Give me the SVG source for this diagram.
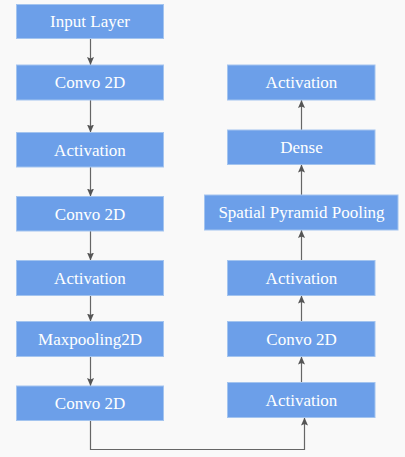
<svg xmlns="http://www.w3.org/2000/svg" width="405" height="457" viewBox="0 0 405 457">
<defs>
<marker id="ah" viewBox="0 0 8 7" refX="8" refY="3.5" markerWidth="8" markerHeight="7" markerUnits="userSpaceOnUse" orient="auto">
<path d="M0,0 L8,3.5 L0,7 L1.5,3.5 z" fill="#555"/>
</marker>
<style>
.box{fill:#6c9fe9;stroke:#a3c4ef;stroke-width:1}
.lbl{font-family:"Liberation Serif","Times New Roman",serif;font-size:17px;fill:#fff;text-anchor:middle}
.c{fill:none;stroke:#666;stroke-width:1.2;marker-end:url(#ah)}
</style>
</defs>
<rect width="405" height="457" fill="#f9f9f9"/>
<g id="connectors">
<path class="c" d="M90.5,38.5 V65"/>
<path class="c" d="M90.5,100 V132.5"/>
<path class="c" d="M90.5,167 V196.5"/>
<path class="c" d="M90.5,231 V260.5"/>
<path class="c" d="M90.5,295.5 V321.5"/>
<path class="c" d="M90.5,356.5 V386"/>
<path class="c" d="M90.5,420.5 V449.5 H304.5 V417.5"/>
<path class="c" d="M301.5,382.5 V356.5"/>
<path class="c" d="M301.5,321.5 V295.5"/>
<path class="c" d="M301.5,260.5 V230"/>
<path class="c" d="M301.5,195 V164.5"/>
<path class="c" d="M301.5,130 V100"/>
</g>
<g id="n1"><rect class="box" x="16.5" y="4.5" width="147" height="34"/><text class="lbl" x="90" y="26.5">Input Layer</text></g>
<g id="n2"><rect class="box" x="16.5" y="65" width="147" height="35"/><text class="lbl" x="90" y="88">Convo 2D</text></g>
<g id="n3"><rect class="box" x="16.5" y="132.5" width="147" height="34.5"/><text class="lbl" x="90" y="155.5">Activation</text></g>
<g id="n4"><rect class="box" x="16.5" y="196.5" width="147" height="34.5"/><text class="lbl" x="90" y="219.5">Convo 2D</text></g>
<g id="n5"><rect class="box" x="16.5" y="260.5" width="147" height="35"/><text class="lbl" x="90" y="283.5">Activation</text></g>
<g id="n6"><rect class="box" x="16.5" y="321.5" width="147" height="35"/><text class="lbl" x="90" y="344.5">Maxpooling2D</text></g>
<g id="n7"><rect class="box" x="16.5" y="386" width="147" height="34.5"/><text class="lbl" x="90" y="409">Convo 2D</text></g>
<g id="n8"><rect class="box" x="227.5" y="382.5" width="147.5" height="35"/><text class="lbl" x="301.5" y="405.5">Activation</text></g>
<g id="n9"><rect class="box" x="227.5" y="321.5" width="147.5" height="35"/><text class="lbl" x="301.5" y="344.5">Convo 2D</text></g>
<g id="n10"><rect class="box" x="227.5" y="260.5" width="147.5" height="35"/><text class="lbl" x="301.5" y="283.5">Activation</text></g>
<g id="n11"><rect class="box" x="204.5" y="195" width="193.5" height="35"/><text class="lbl" x="301.5" y="218">Spatial Pyramid Pooling</text></g>
<g id="n12"><rect class="box" x="227.5" y="130" width="147.5" height="34.5"/><text class="lbl" x="301.5" y="153">Dense</text></g>
<g id="n13"><rect class="box" x="227.5" y="65" width="147.5" height="35"/><text class="lbl" x="301.5" y="88">Activation</text></g>
</svg>
